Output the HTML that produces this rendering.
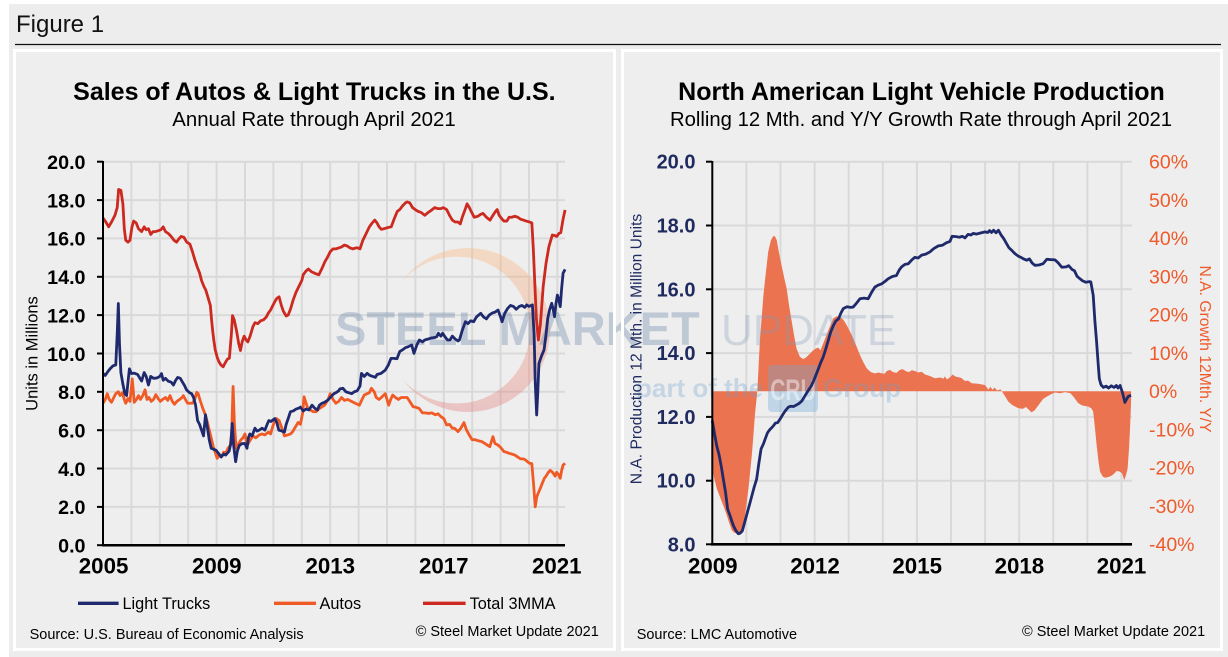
<!DOCTYPE html>
<html><head><meta charset="utf-8"><style>
html,body{margin:0;padding:0;background:#ededed;}
svg{display:block;}
text{font-family:"Liberation Sans",Arial,sans-serif;}
</style></head><body>
<svg width="1228" height="657" viewBox="0 0 1228 657" xmlns="http://www.w3.org/2000/svg">
<defs>
<linearGradient id="cg" x1="0" y1="0" x2="0" y2="1">
<stop offset="0" stop-color="#ffb677"/><stop offset="1" stop-color="#e37777"/>
</linearGradient>
<mask id="cm"><rect x="0" y="0" width="1228" height="657" fill="#fff"/><circle cx="456.6" cy="330" r="73.4" fill="#000"/></mask>
</defs>
<rect x="0" y="0" width="1228" height="657" fill="#ededed"/>
<rect x="0" y="0" width="9" height="657" fill="#fff"/>
<rect x="0" y="0" width="1228" height="4" fill="#fff"/>
<text x="16" y="32" font-size="24" fill="#111">Figure 1</text>
<line x1="15" y1="44.5" x2="1221" y2="44.5" stroke="#111" stroke-width="1.3"/>

<!-- panel backgrounds -->
<rect x="14.5" y="50.5" width="600" height="599" fill="#eeeeee"/>
<rect x="622.5" y="50.5" width="599" height="599" fill="#eeeeee"/>

<!-- LEFT CHART -->
<text x="314.4" y="100" font-size="25" font-weight="bold" text-anchor="middle" fill="#000">Sales of Autos &amp; Light Trucks in the U.S.</text>
<text x="314" y="126" font-size="20.4" text-anchor="middle" fill="#000">Annual Rate through April 2021</text>

<g stroke="#d9d9d9" stroke-width="2">
<line x1="131.4" y1="161.7" x2="131.4" y2="545"/><line x1="159.8" y1="161.7" x2="159.8" y2="545"/>
<line x1="188.2" y1="161.7" x2="188.2" y2="545"/><line x1="216.6" y1="161.7" x2="216.6" y2="545"/>
<line x1="245" y1="161.7" x2="245" y2="545"/><line x1="273.4" y1="161.7" x2="273.4" y2="545"/>
<line x1="301.8" y1="161.7" x2="301.8" y2="545"/><line x1="330.2" y1="161.7" x2="330.2" y2="545"/>
<line x1="358.6" y1="161.7" x2="358.6" y2="545"/><line x1="387" y1="161.7" x2="387" y2="545"/>
<line x1="415.4" y1="161.7" x2="415.4" y2="545"/><line x1="443.8" y1="161.7" x2="443.8" y2="545"/>
<line x1="472.2" y1="161.7" x2="472.2" y2="545"/><line x1="500.6" y1="161.7" x2="500.6" y2="545"/>
<line x1="529" y1="161.7" x2="529" y2="545"/><line x1="557.4" y1="161.7" x2="557.4" y2="545"/>
<line x1="103" y1="161.7" x2="565" y2="161.7"/><line x1="103" y1="200.1" x2="565" y2="200.1"/>
<line x1="103" y1="238.4" x2="565" y2="238.4"/><line x1="103" y1="276.8" x2="565" y2="276.8"/>
<line x1="103" y1="315.1" x2="565" y2="315.1"/><line x1="103" y1="353.5" x2="565" y2="353.5"/>
<line x1="103" y1="391.8" x2="565" y2="391.8"/><line x1="103" y1="430.2" x2="565" y2="430.2"/>
<line x1="103" y1="468.5" x2="565" y2="468.5"/><line x1="103" y1="506.9" x2="565" y2="506.9"/>
</g>

<!-- RIGHT CHART grid -->
<text x="921.5" y="100" font-size="25" font-weight="bold" text-anchor="middle" fill="#000">North American Light Vehicle Production</text>
<text x="921" y="126" font-size="20.3" text-anchor="middle" fill="#000">Rolling 12 Mth. and Y/Y Growth Rate through April 2021</text>
<g stroke="#d9d9d9" stroke-width="2">
<line x1="746.4" y1="161.7" x2="746.4" y2="544"/><line x1="780.5" y1="161.7" x2="780.5" y2="544"/>
<line x1="814.6" y1="161.7" x2="814.6" y2="544"/><line x1="848.7" y1="161.7" x2="848.7" y2="544"/>
<line x1="882.8" y1="161.7" x2="882.8" y2="544"/><line x1="916.9" y1="161.7" x2="916.9" y2="544"/>
<line x1="951" y1="161.7" x2="951" y2="544"/><line x1="985.1" y1="161.7" x2="985.1" y2="544"/>
<line x1="1019.2" y1="161.7" x2="1019.2" y2="544"/><line x1="1053.3" y1="161.7" x2="1053.3" y2="544"/>
<line x1="1087.4" y1="161.7" x2="1087.4" y2="544"/><line x1="1121.5" y1="161.7" x2="1121.5" y2="544"/>
<line x1="712" y1="161.7" x2="1132" y2="161.7"/><line x1="712" y1="225.5" x2="1132" y2="225.5"/>
<line x1="712" y1="289.3" x2="1132" y2="289.3"/><line x1="712" y1="353.1" x2="1132" y2="353.1"/>
<line x1="712" y1="416.9" x2="1132" y2="416.9"/><line x1="712" y1="480.7" x2="1132" y2="480.7"/>
</g>

<!-- growth area -->
<g transform="translate(712.3,391.3) scale(34.1,-3.826)">
<polygon fill="#ec7350" points="0,0 0,-20 0.05,-22.5 0.13,-25.4 0.2,-27 0.28,-28.9 0.35,-30.5 0.42,-32.3 0.5,-34.5 0.57,-36.3 0.65,-37 0.72,-37.1 0.8,-37 0.86,-36.7 0.91,-35 0.96,-32.3 1.01,-29 1.06,-25.4 1.11,-21 1.16,-16.6 1.21,-11 1.25,-6.2 1.32,0 1.36,7 1.4,13.9 1.45,19.5 1.5,25.2 1.57,31 1.64,36.5 1.72,39.5 1.79,40.6 1.84,40.5 1.89,39.5 1.96,36 2.03,33 2.1,30 2.18,26.9 2.25,22.5 2.33,18.2 2.4,14.5 2.47,11.2 2.57,9 2.67,8.4 2.77,9 2.87,9.9 2.97,10.8 3.04,11.2 3.11,11.4 3.17,10.7 3.23,12 3.35,14.7 3.45,17 3.55,19.1 3.65,19.6 3.75,19.5 3.85,18.6 3.94,17.3 4.04,15.6 4.13,13.9 4.23,11.7 4.33,9.5 4.43,7.6 4.53,6 4.65,5 4.77,4.7 4.87,4.9 4.97,4.7 5.05,4.6 5.12,5.3 5.21,5.6 5.3,5 5.4,4.8 5.5,5.6 5.58,5.8 5.67,5.3 5.76,5 5.85,5.5 5.94,5.3 6.04,4.9 6.14,5.1 6.24,4.4 6.38,4 6.53,3.4 6.68,3.6 6.78,3.3 6.82,3.9 6.88,3.1 6.96,3.6 7.05,4.4 7.12,3.9 7.2,3.7 7.3,3.5 7.41,2.7 7.5,2.8 7.61,2.1 7.75,2 7.9,1.8 8,1.6 8.1,0.4 8.15,1.2 8.22,0.4 8.28,1 8.35,0.2 8.45,0.5 8.49,0 8.6,-1.5 8.68,-2.7 8.8,-3.6 8.97,-4.4 9.1,-4.6 9.2,-4.1 9.3,-5 9.36,-5.5 9.45,-5 9.55,-3.8 9.7,-2 9.81,-1.4 9.92,-0.8 10.05,-0.3 10.2,-0.5 10.35,-0.2 10.5,-0.5 10.6,-1.5 10.73,-3.1 10.85,-3.7 11.03,-4 11.12,-4.5 11.17,-5.3 11.22,-9.5 11.27,-14 11.32,-18 11.37,-21 11.45,-22.3 11.52,-22.6 11.62,-22.4 11.72,-22 11.8,-21.4 11.86,-20.8 11.95,-21 12.02,-21.5 12.08,-23.2 12.13,-22 12.18,-20.1 12.22,-15 12.25,-9.7 12.28,-3 12.28,0"/>
</g>

<!-- WATERMARK -->
<path d="M468,248 A82,82 0 1,1 467.9,248 Z" fill="url(#cg)" opacity="0.35" mask="url(#cm)"/>
<text x="335" y="345" font-size="47" font-weight="bold" fill="#56749f" opacity="0.3">STEEL MARKET</text>
<text x="721" y="345" font-size="44" fill="#8599b7" opacity="0.3">UPDATE</text>
<text x="636" y="397" font-size="26" font-weight="bold" fill="#6a9fcb" opacity="0.3">part of the</text>
<rect x="768" y="365" width="50" height="47" rx="4" fill="#6aa8d8" opacity="0.35"/>
<text x="793" y="400" font-size="30" font-weight="bold" text-anchor="middle" fill="#ffffff" opacity="0.45" transform="translate(793,0) scale(0.7,1) translate(-793,0)">CRU</text>
<text x="823" y="397" font-size="26" font-weight="bold" fill="#6a9fcb" opacity="0.3">Group</text>

<!-- panel borders on top -->
<rect x="14.5" y="50.5" width="600" height="599" fill="none" stroke="#fff" stroke-width="3"/>
<rect x="622.5" y="50.5" width="599" height="599" fill="none" stroke="#fff" stroke-width="3"/>

<!-- LEFT series -->
<g transform="translate(103,545.2) scale(28.4,-19.18)" fill="none" stroke-width="2.8" stroke-linejoin="round">
<polyline vector-effect="non-scaling-stroke" stroke="#f05a24" points="0,7.4 0.08,7.6 0.15,7.9 0.22,7.6 0.3,7.45 0.38,7.7 0.45,7.9 0.54,8 0.6,7.8 0.68,7.95 0.75,7.6 0.8,7.4 0.88,7.65 0.95,7.5 1.03,8.67 1.1,7.45 1.18,7.6 1.25,7.8 1.32,7.6 1.4,7.8 1.48,8.1 1.55,7.6 1.62,7.7 1.7,7.5 1.78,7.6 1.86,7.85 1.94,7.65 2.02,7.5 2.1,7.6 2.2,7.7 2.28,7.55 2.36,7.8 2.44,7.5 2.52,7.35 2.6,7.5 2.7,7.6 2.78,7.7 2.83,7.8 2.9,7.6 2.98,7.4 3.06,7.4 3.15,7.4 3.23,7.6 3.3,7.97 3.35,7.9 3.42,7.55 3.5,7.2 3.6,6.8 3.66,6.5 3.74,6 3.81,5.6 3.88,5.14 3.95,4.85 4.02,4.53 4.1,4.7 4.17,4.6 4.25,4.85 4.33,4.8 4.4,5.05 4.48,5.2 4.53,5.8 4.58,8.27 4.63,6.2 4.69,5.05 4.78,5.3 4.86,5.5 4.93,5.6 5,5.8 5.08,5.2 5.15,5.4 5.28,5.7 5.38,5.6 5.5,5.75 5.6,5.8 5.7,5.75 5.83,5.9 5.9,5.8 5.98,6.2 6.05,6.5 6.11,6.6 6.2,6.5 6.3,6.1 6.39,5.7 6.5,5.75 6.6,5.8 6.67,5.9 6.75,6.1 6.87,6.4 6.95,6.3 7.03,6.9 7.08,7.74 7.15,7.4 7.22,7.1 7.3,7.05 7.4,6.96 7.5,6.96 7.6,7.1 7.7,7.2 7.8,7.3 7.92,7.57 8,7.9 8.1,7.6 8.2,7.4 8.3,7.5 8.4,7.7 8.5,7.55 8.62,7.6 8.75,7.5 8.88,7.4 9.03,7.3 9.12,7.6 9.2,7.83 9.3,7.9 9.38,7.95 9.45,8.18 9.55,8 9.62,7.7 9.72,7.6 9.8,7.7 9.94,7.9 10,7.6 10.06,7.3 10.13,7.6 10.2,7.83 10.3,7.7 10.4,7.6 10.5,7.7 10.6,7.7 10.71,7.7 10.8,7.5 10.92,7.22 11,7.2 11.13,7.13 11.25,6.9 11.35,6.9 11.47,6.87 11.58,6.9 11.7,6.8 11.8,6.85 11.9,6.7 12,6.6 12.1,6.27 12.2,6.3 12.3,6.1 12.37,6.1 12.45,6 12.5,5.92 12.6,6.1 12.71,6.39 12.8,6 12.93,5.66 13,5.5 13.1,5.5 13.2,5.45 13.34,5.4 13.45,5.3 13.55,5.2 13.62,5.14 13.73,5.66 13.8,5.3 13.9,5.23 14,5.1 14.12,4.88 14.2,4.85 14.3,4.79 14.4,4.75 14.5,4.7 14.6,4.6 14.7,4.5 14.8,4.5 14.88,4.44 14.95,4.35 15.02,4.27 15.1,4.25 15.16,3.2 15.22,2 15.27,2.5 15.32,2.7 15.38,2.9 15.46,3.2 15.54,3.49 15.6,3.6 15.68,3.8 15.75,3.9 15.83,3.8 15.92,3.6 15.97,3.8 16.03,3.7 16.1,3.49 16.15,3.9 16.2,4.18 16.27,4.27"/>
<polyline vector-effect="non-scaling-stroke" stroke="#1f2a6e" points="0,8.96 0.08,8.85 0.17,9.05 0.25,9.2 0.35,9.35 0.45,9.4 0.5,11 0.54,12.6 0.58,10.5 0.63,9 0.7,8.4 0.77,7.9 0.83,7.8 0.93,9.2 1,8.95 1.1,8.97 1.22,8.9 1.3,8.7 1.36,8.56 1.45,9 1.52,8.8 1.6,8.35 1.68,8.8 1.78,8.7 1.9,8.72 2,8.8 2.06,8.95 2.12,8.6 2.2,8.7 2.3,8.55 2.4,8.5 2.48,8.35 2.56,8.6 2.63,8.75 2.72,8.7 2.8,8.5 2.88,8.3 2.94,8.1 3.05,7.95 3.12,7.9 3.19,7.7 3.26,7.3 3.33,6.5 3.4,6.3 3.47,6 3.54,5.7 3.61,6.8 3.67,6.2 3.74,5.5 3.81,5.05 3.9,5 3.98,4.95 4.06,4.8 4.16,4.6 4.25,4.75 4.32,4.7 4.44,4.9 4.5,5.3 4.55,6.35 4.6,5.2 4.67,4.35 4.73,4.9 4.8,5.2 4.9,5.3 5,5.3 5.07,5.05 5.12,5.6 5.17,5.8 5.25,5.7 5.35,6.1 5.42,5.95 5.5,6 5.6,6.1 5.7,6 5.78,6.3 5.84,6.5 5.92,6.45 6,6.55 6.05,6.6 6.12,6.4 6.19,6 6.3,5.95 6.39,5.9 6.45,6.3 6.52,6.6 6.6,6.96 6.7,7 6.8,7.1 6.9,7.15 6.95,7.2 7.05,7 7.15,7.1 7.25,7.05 7.36,7.3 7.45,7.15 7.55,7.05 7.62,7.3 7.71,7.4 7.8,7.45 7.92,7.57 8,7.7 8.13,7.9 8.2,7.95 8.3,8.05 8.34,8.15 8.45,8.18 8.55,8 8.65,7.95 8.76,7.9 8.85,8 8.95,8.05 9.05,8.3 9.1,8.96 9.2,8.8 9.3,8.96 9.4,8.85 9.5,8.8 9.59,8.75 9.65,8.9 9.79,8.96 9.94,9.13 10.05,9.4 10.14,9.74 10.25,9.74 10.35,9.72 10.45,10.1 10.54,10.18 10.65,10.3 10.75,10.35 10.87,10.44 10.95,10 11.05,10.44 11.14,10.7 11.25,10.6 11.33,10.7 11.45,10.75 11.55,10.8 11.65,10.82 11.75,10.87 11.81,11.05 11.9,10.9 11.96,11.05 12.05,10.85 12.13,10.7 12.22,10.7 12.3,10.9 12.4,10.75 12.5,10.65 12.55,10.7 12.65,11.2 12.76,11.65 12.85,11.55 12.95,11.7 13.05,11.65 13.15,11.9 13.3,12.09 13.4,11.9 13.5,11.8 13.6,12 13.7,12.1 13.8,12.15 13.91,12.26 14,11.9 14.05,11.65 14.15,12.1 14.25,12.35 14.35,12.5 14.45,12.45 14.55,12.3 14.65,12.44 14.75,12.5 14.85,12.4 14.92,12.53 15,12.45 15.12,12.53 15.18,11 15.22,8.5 15.27,6.79 15.31,8 15.35,9.48 15.45,9.9 15.53,10.18 15.6,11 15.66,11.83 15.73,12.3 15.8,12.61 15.85,12.3 15.9,11.91 15.95,12.6 16,13.04 16.05,12.8 16.1,12.44 16.15,13.4 16.2,14.18 16.27,14.38"/>
<polyline vector-effect="non-scaling-stroke" stroke="#cc2a20" points="0,17.06 0.1,16.85 0.2,16.6 0.3,16.85 0.42,17.2 0.5,17.6 0.55,18.55 0.63,18.5 0.7,17.8 0.75,16.5 0.8,15.9 0.88,15.8 0.95,15.9 1.02,16.6 1.08,16.9 1.17,16.8 1.25,16.5 1.36,16.35 1.45,16.6 1.52,16.45 1.6,16.5 1.68,16.2 1.76,16.35 1.85,16.35 1.95,16.4 2.04,16.45 2.12,16.6 2.2,16.35 2.3,16.25 2.4,16.1 2.5,15.9 2.59,15.8 2.66,15.95 2.75,16.1 2.85,16.05 2.95,15.8 3.06,15.7 3.15,15.3 3.23,14.9 3.32,14.5 3.4,14.2 3.47,13.8 3.55,13.5 3.62,13.3 3.7,12.9 3.78,12.5 3.82,11.8 3.86,11.2 3.9,10.7 3.95,10.2 4.02,9.8 4.08,9.57 4.15,9.4 4.23,9.3 4.3,9.5 4.38,9.7 4.45,9.75 4.52,11 4.56,11.97 4.62,11.75 4.7,11.2 4.78,10.5 4.84,10.15 4.9,10.6 4.97,10.9 5.04,10.7 5.1,10.6 5.18,10.9 5.28,11.4 5.35,11.6 5.45,11.55 5.55,11.7 5.65,11.75 5.75,11.9 5.82,12.1 5.9,12.26 5.98,12.5 6.05,12.7 6.12,12.87 6.2,12.95 6.28,12.5 6.35,12.2 6.45,11.95 6.52,12 6.6,12.3 6.7,12.8 6.8,13.2 6.9,13.5 7,13.8 7.05,14.1 7.15,14.3 7.23,14.4 7.35,14.25 7.5,14.15 7.6,14.1 7.7,14.4 7.82,14.8 7.9,15 8,15.3 8.1,15.45 8.2,15.45 8.3,15.5 8.4,15.55 8.5,15.65 8.6,15.6 8.7,15.5 8.8,15.45 8.9,15.5 8.97,15.5 9.05,15.45 9.15,15.9 9.25,16.2 9.38,16.6 9.48,16.8 9.57,16.95 9.65,16.8 9.72,16.6 9.8,16.47 9.9,16.5 10,16.55 10.15,16.6 10.25,17 10.36,17.4 10.45,17.5 10.55,17.7 10.65,17.85 10.71,17.9 10.8,17.85 10.9,17.6 10.99,17.5 11.1,17.4 11.2,17.35 11.33,17.2 11.45,17.35 11.55,17.45 11.68,17.6 11.78,17.55 11.9,17.55 11.98,17.6 12.1,17.5 12.2,17.2 12.3,16.95 12.4,16.85 12.5,16.85 12.58,16.75 12.65,17.1 12.75,17.5 12.82,17.8 12.9,17.6 13,17.3 13.07,17.1 13.2,17.15 13.3,17.25 13.38,17.3 13.5,17.1 13.63,16.95 13.73,17.2 13.82,17.4 13.88,17.5 13.95,17.2 14.05,17 14.12,16.9 14.22,16.9 14.3,17.1 14.4,17.1 14.5,17.15 14.6,17.1 14.7,17 14.8,16.95 14.9,16.9 15.02,16.85 15.1,16.8 15.15,15.5 15.2,13.8 15.26,11.8 15.33,10.7 15.4,11.5 15.45,12.5 15.5,13.5 15.6,14.7 15.7,15.56 15.82,16.17 15.9,16.15 15.98,16.1 16.05,16.25 16.12,16.3 16.2,17 16.27,17.48"/>
</g>

<!-- left axes -->
<g stroke="#000" stroke-width="2">
<line x1="103" y1="161" x2="103" y2="546.2"/>
<line x1="102" y1="545.2" x2="565" y2="545.2" stroke-width="2.5"/>
<line x1="97" y1="161.7" x2="103" y2="161.7"/><line x1="97" y1="200.1" x2="103" y2="200.1"/>
<line x1="97" y1="238.4" x2="103" y2="238.4"/><line x1="97" y1="276.8" x2="103" y2="276.8"/>
<line x1="97" y1="315.1" x2="103" y2="315.1"/><line x1="97" y1="353.5" x2="103" y2="353.5"/>
<line x1="97" y1="391.8" x2="103" y2="391.8"/><line x1="97" y1="430.2" x2="103" y2="430.2"/>
<line x1="97" y1="468.5" x2="103" y2="468.5"/><line x1="97" y1="506.9" x2="103" y2="506.9"/>
<line x1="97" y1="545.2" x2="103" y2="545.2"/>
</g>
<g font-size="19.7" font-weight="bold" text-anchor="end" fill="#000">
<text x="85.5" y="169">20.0</text><text x="85.5" y="207.4">18.0</text><text x="85.5" y="245.7">16.0</text>
<text x="85.5" y="284.1">14.0</text><text x="85.5" y="322.4">12.0</text><text x="85.5" y="360.8">10.0</text>
<text x="85.5" y="399.1">8.0</text><text x="85.5" y="437.5">6.0</text><text x="85.5" y="475.8">4.0</text>
<text x="85.5" y="514.2">2.0</text><text x="85.5" y="552.5">0.0</text>
</g>
<g font-size="22.3" font-weight="bold" text-anchor="middle" fill="#000">
<text x="103.6" y="573.5">2005</text><text x="216.8" y="573.5">2009</text><text x="330.3" y="573.5">2013</text>
<text x="443.8" y="573.5">2017</text><text x="556.8" y="573.5">2021</text>
</g>
<text transform="translate(37.5,353.5) rotate(-90)" font-size="16.5" text-anchor="middle" fill="#000">Units in Millions</text>

<!-- legend -->
<line x1="78" y1="603.3" x2="118.6" y2="603.3" stroke="#1f2a6e" stroke-width="3.3"/>
<text x="122.5" y="609" font-size="16.3" fill="#000">Light Trucks</text>
<line x1="274" y1="603.3" x2="316" y2="603.3" stroke="#f05a24" stroke-width="3.3"/>
<text x="319.5" y="609" font-size="16.3" fill="#000">Autos</text>
<line x1="423" y1="603.3" x2="465.6" y2="603.3" stroke="#cc2a20" stroke-width="3.3"/>
<text x="469.6" y="609" font-size="16.3" fill="#000">Total 3MMA</text>

<text x="29.6" y="639" font-size="14.5" fill="#000">Source: U.S. Bureau of Economic Analysis</text>
<text x="598.8" y="636" font-size="14.5" text-anchor="end" fill="#000">© Steel Market Update 2021</text>

<!-- RIGHT line -->
<g transform="translate(712.3,799.3) scale(34.1,-31.88)" fill="none" stroke-linejoin="round">
<polyline vector-effect="non-scaling-stroke" stroke="#1f2a6b" stroke-width="2.8" points="0,11.88 0.06,11.5 0.13,11.09 0.2,10.8 0.26,10.46 0.33,10 0.39,9.62 0.45,9.1 0.52,8.9 0.58,8.7 0.62,8.58 0.68,8.45 0.76,8.33 0.82,8.35 0.88,8.42 0.94,8.65 1,8.89 1.08,9.2 1.16,9.52 1.23,9.8 1.3,10.04 1.36,10.5 1.43,10.99 1.5,11.15 1.55,11.3 1.62,11.5 1.69,11.6 1.78,11.7 1.85,11.8 1.92,11.82 2,11.95 2.08,12.09 2.15,12.2 2.23,12.3 2.3,12.33 2.38,12.32 2.47,12.37 2.55,12.42 2.63,12.5 2.72,12.66 2.8,12.8 2.91,12.98 3,13.2 3.11,13.5 3.18,13.7 3.25,13.87 3.32,14.1 3.4,14.39 3.47,14.65 3.55,14.86 3.62,15 3.7,15.07 3.77,15.25 3.84,15.39 3.95,15.45 4.05,15.43 4.13,15.44 4.22,15.55 4.33,15.7 4.45,15.72 4.57,15.7 4.67,15.9 4.77,16.07 4.87,16.13 4.97,16.17 5.07,16.25 5.16,16.33 5.28,16.4 5.4,16.43 5.48,16.6 5.55,16.7 5.65,16.78 5.75,16.8 5.85,16.92 5.94,17 6.04,16.98 6.14,17.07 6.26,17.1 6.38,17.17 6.5,17.28 6.63,17.36 6.75,17.38 6.87,17.46 6.97,17.5 7.03,17.66 7.15,17.65 7.25,17.63 7.33,17.66 7.41,17.61 7.5,17.72 7.58,17.7 7.65,17.75 7.75,17.73 7.85,17.76 8,17.8 8.08,17.78 8.13,17.84 8.19,17.78 8.25,17.85 8.32,17.77 8.39,17.85 8.47,17.7 8.55,17.58 8.63,17.43 8.7,17.3 8.78,17.22 8.87,17.12 8.97,17.04 9.05,17 9.13,16.95 9.22,16.91 9.3,16.95 9.38,16.82 9.46,16.75 9.58,16.76 9.7,16.8 9.81,16.94 9.9,16.93 10.05,16.92 10.15,16.82 10.25,16.69 10.38,16.7 10.45,16.74 10.55,16.62 10.62,16.58 10.7,16.4 10.78,16.33 10.85,16.27 10.95,16.22 11.05,16.24 11.1,16.23 11.17,15.81 11.22,15 11.27,14.34 11.32,13.6 11.35,13.19 11.4,13 11.47,12.92 11.55,12.96 11.62,12.9 11.7,12.97 11.78,12.92 11.85,12.98 11.9,12.9 11.96,12.98 12.03,12.75 12.1,12.45 12.15,12.55 12.2,12.64 12.28,12.67"/>
</g>

<!-- right axes -->
<g stroke="#000" stroke-width="2">
<line x1="712.3" y1="161" x2="712.3" y2="545.5"/>
<line x1="711" y1="544.3" x2="1132" y2="544.3" stroke-width="2.6"/>
<line x1="706" y1="161.7" x2="712" y2="161.7"/><line x1="706" y1="225.5" x2="712" y2="225.5"/>
<line x1="706" y1="289.3" x2="712" y2="289.3"/><line x1="706" y1="353.1" x2="712" y2="353.1"/>
<line x1="706" y1="416.9" x2="712" y2="416.9"/><line x1="706" y1="480.7" x2="712" y2="480.7"/>
<line x1="706" y1="544.3" x2="712" y2="544.3"/>
</g>
<g font-size="20" font-weight="bold" text-anchor="end" fill="#1f2a5e">
<text x="695.5" y="168.7">20.0</text><text x="695.5" y="232.5">18.0</text><text x="695.5" y="296.3">16.0</text>
<text x="695.5" y="360.1">14.0</text><text x="695.5" y="423.9">12.0</text><text x="695.5" y="487.7">10.0</text>
<text x="695.5" y="551.3">8.0</text>
</g>
<g font-size="19.5" fill="#ef5a2a">
<text x="1149" y="168.5">60%</text><text x="1149" y="206.8">50%</text><text x="1149" y="245">40%</text>
<text x="1149" y="283.3">30%</text><text x="1149" y="321.5">20%</text><text x="1149" y="359.8">10%</text>
<text x="1149" y="398.1">0%</text><text x="1149" y="436.3">-10%</text><text x="1149" y="474.6">-20%</text>
<text x="1149" y="512.8">-30%</text><text x="1149" y="551.1">-40%</text>
</g>
<g font-size="22.3" font-weight="bold" text-anchor="middle" fill="#000">
<text x="712.8" y="573.3">2009</text><text x="815" y="573.3">2012</text><text x="917.2" y="573.3">2015</text>
<text x="1019.4" y="573.3">2018</text><text x="1121.5" y="573.3">2021</text>
</g>
<text transform="translate(641.5,349) rotate(-90)" font-size="15.6" text-anchor="middle" fill="#1f2a5e">N.A. Production 12 Mth. in Million Units</text>
<text transform="translate(1200,349) rotate(90)" font-size="15.7" text-anchor="middle" fill="#ef5a2a">N.A. Growth 12Mth. Y/Y</text>

<text x="636.7" y="639" font-size="14.5" fill="#000">Source: LMC Automotive</text>
<text x="1205.2" y="636" font-size="14.5" text-anchor="end" fill="#000">© Steel Market Update 2021</text>
</svg>
</body></html>
